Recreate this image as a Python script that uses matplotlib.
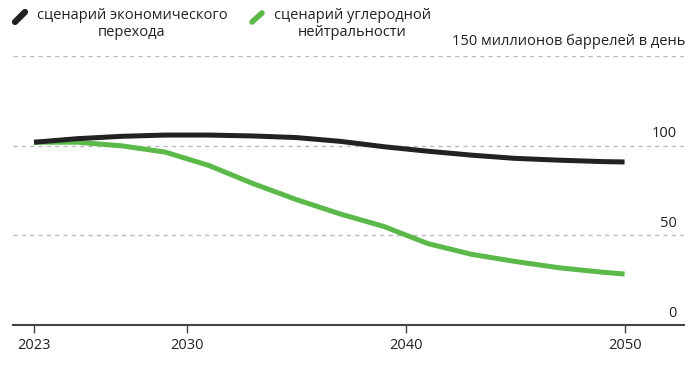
import matplotlib
matplotlib.use('Agg')
import matplotlib.pyplot as plt
from matplotlib.lines import Line2D

plt.rcParams['font.family'] = ['Open Sans', 'DejaVu Sans']

# Oil demand, million barrels per day
years_econ = [2023, 2025, 2027, 2029, 2031, 2033, 2035, 2037, 2039, 2041, 2043, 2045, 2047, 2049, 2050]
econ = [102, 104, 105.3, 106, 106, 105.5, 104.6, 102.5, 99.5, 97, 94.8, 93, 92, 91.2, 91]

years_nz = [2023, 2025, 2027, 2029, 2031, 2033, 2035, 2037, 2039, 2041, 2043, 2045, 2047, 2049, 2050]
netzero = [102, 102, 100, 96.5, 89, 79, 70, 62, 55, 45.5, 39.5, 35.5, 32, 29.5, 28.5]

xticks = [2023, 2030, 2040, 2050]
yticks = [0, 50, 100, 150]

BLACK = '#222222'
GREEN = '#5bb94a'

fig = plt.figure(figsize=(7, 3.72), dpi=100)
ax = fig.add_axes([0.0186, 0.126, 0.958, 0.723])

ax.plot(years_econ, econ, color=BLACK, lw=3.6, solid_capstyle='butt', zorder=4, clip_on=False)
ax.plot(years_nz, netzero, color=GREEN, lw=3.6, solid_capstyle='butt', zorder=3, clip_on=False)

ax.set_xlim(2022.04, 2052.7)
ax.set_ylim(0, 150)

# dashed gridlines + right-side labels
for v in yticks[1:]:
    ax.axhline(v, color='#bbbbbb', lw=1, ls=(0, (3, 3)), zorder=1)
for v in yticks[:-1]:
    ax.text(2052.4, v + 2.5, str(v), ha='right', va='bottom', fontsize=10.5, color='#222222')
ax.text(2052.8, 150 + 4, '150 миллионов баррелей в день', ha='right', va='bottom',
        fontsize=10.5, color='#222222')

ax.set_xticks(xticks)
ax.set_xticklabels([str(x) for x in xticks], fontsize=10.5, color='#222222')
ax.set_yticks([])
ax.tick_params(axis='x', length=6, width=1, color='#444444', pad=3)
for s in ['top', 'left', 'right']:
    ax.spines[s].set_visible(False)
ax.spines['bottom'].set_color('#444444')
ax.spines['bottom'].set_linewidth(1.5)

# legend
W, H = 700, 372
def fx(px): return px / W
def fy(py): return 1 - py / H

fig.add_artist(Line2D([fx(15), fx(25)], [fy(22), fy(12)], color=BLACK, lw=4.5,
                      solid_capstyle='round', transform=fig.transFigure))
fig.add_artist(Line2D([fx(252), fx(262)], [fy(22), fy(13)], color=GREEN, lw=4,
                      solid_capstyle='round', transform=fig.transFigure))
fig.text(fx(132), fy(24), 'сценарий экономического\nперехода', ha='center', va='center',
         fontsize=10.5, color='#222222', linespacing=1.25)
fig.text(fx(352), fy(24), 'сценарий углеродной\nнейтральности', ha='center', va='center',
         fontsize=10.5, color='#222222', linespacing=1.25)

fig.savefig('out.png', dpi=100)
